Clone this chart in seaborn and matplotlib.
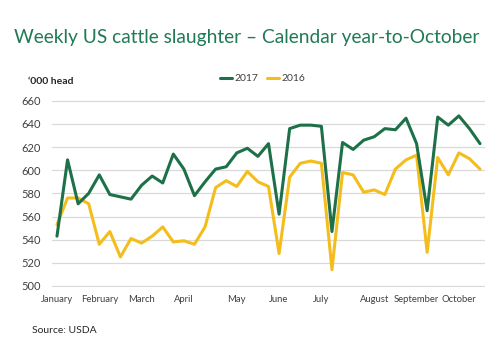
import matplotlib
matplotlib.use("Agg")
import matplotlib.pyplot as plt
import seaborn as sns
import pandas as pd

# Weekly cattle slaughter, '000 head, weeks from January to mid-October
slaughter_2017 = [543, 609, 571, 580, 596, 579, 577, 575, 587, 595,
                  589, 614, 601, 578, 590, 601, 603, 615, 619, 612,
                  623, 562, 636, 639, 639, 638, 547, 624, 618, 626,
                  629, 636, 635, 645, 623, 565, 646, 639, 647, 636,
                  623]
slaughter_2016 = [553, 576, 576, 571, 536, 547, 525, 541, 537, 543,
                  551, 538, 539, 536, 551, 585, 591, 586, 599, 590,
                  586, 528, 594, 606, 608, 606, 514, 598, 596, 581,
                  583, 579, 601, 609, 613, 529, 611, 596, 615, 610,
                  601]
month_labels = ["January", "February", "March", "April", "May", "June",
                "July", "August", "September", "October"]
month_weeks = [0, 4, 8, 12, 17, 21, 25, 30, 34, 38]
y_ticks = [500, 520, 540, 560, 580, 600, 620, 640, 660]

GREEN = "#1d7048"
GOLD = "#f4bd1c"
TITLE_GREEN = "#1f7a55"
TEXT = "#404040"

sns.set_theme(style="white")
plt.rcParams["font.family"] = ["Lato", "DejaVu Sans"]

weeks = list(range(len(slaughter_2017)))
df = pd.concat([
    pd.DataFrame({"week": weeks, "head": slaughter_2017, "year": "2017"}),
    pd.DataFrame({"week": weeks, "head": slaughter_2016, "year": "2016"}),
])

fig = plt.figure(figsize=(5.0, 3.45), dpi=100)
ax = fig.add_axes([0.104, 0.169, 0.866, 0.541])

sns.lineplot(data=df, x="week", y="head", hue="year",
             hue_order=["2016", "2017"],
             palette={"2017": GREEN, "2016": GOLD},
             linewidth=2.2, ax=ax, legend=False)

ax.set_xlim(-0.47, len(weeks) - 1 + 0.47)
ax.set_ylim(499.3, 660.7)
ax.set_yticks(y_ticks)
ax.set_yticklabels([str(v) for v in y_ticks], fontsize=8, color=TEXT)
ax.set_xticks(month_weeks)
ax.set_xticklabels(month_labels, fontsize=6.8, color=TEXT)
ax.tick_params(axis="both", length=0, pad=6)
ax.tick_params(axis="y", pad=8)
ax.set_xlabel("")
ax.set_ylabel("")
ax.grid(axis="y", color="#d9d9d9", linewidth=0.9)
ax.set_axisbelow(True)
for s in ax.spines.values():
    s.set_visible(False)

# Legend: 2017 first, then 2016
handles = [plt.Line2D([], [], color=GREEN, lw=2.2),
           plt.Line2D([], [], color=GOLD, lw=2.2)]
fig.legend(handles, ["2017", "2016"], loc="center", ncol=2,
           bbox_to_anchor=(0.525, 0.772), frameon=False,
           fontsize=7.5, handlelength=1.2, handletextpad=0.2,
           columnspacing=0.8, labelcolor=TEXT)

# Title sized to span the width from the left margin to the right margin
title = fig.text(0.028, 0.125 + 0.75, "Weekly US cattle slaughter \u2013 Calendar year-to-October",
                 fontsize=17.5, color=TITLE_GREEN, va="baseline", ha="left")
renderer = fig.canvas.get_renderer()
w = title.get_window_extent(renderer).width
title.set_fontsize(17.5 * 466.0 / w)

fig.text(0.056, 0.765, "\u2018000 head", fontsize=7.5, fontweight="bold",
         color="#262626", va="center", ha="left")
fig.text(0.064, 0.043, "Source: USDA", fontsize=7.5, color="#262626",
         va="center", ha="left")

fig.savefig("out.png", dpi=100, facecolor="white")
